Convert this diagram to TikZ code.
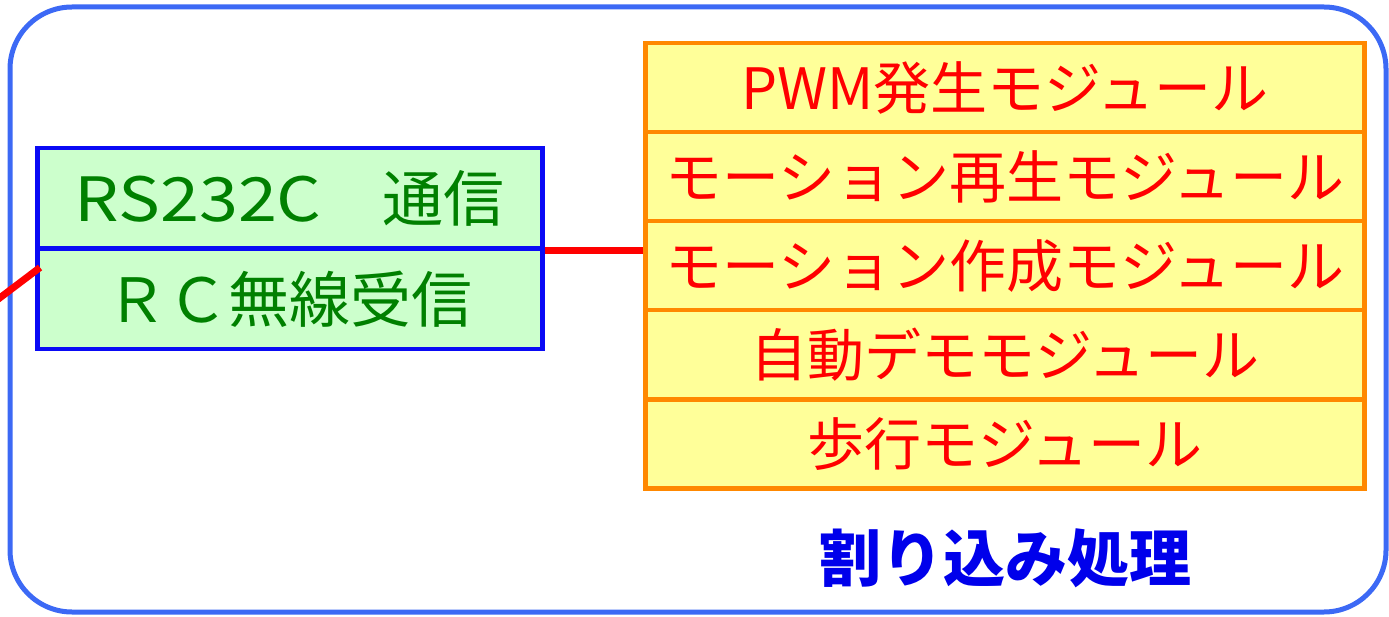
\documentclass[tikz,border=0pt]{standalone}
\usepackage{fontspec}
\setmainfont{Noto Sans CJK JP}
\newfontfamily\widelatin[FakeStretch=1.15]{Noto Sans CJK JP}
\usetikzlibrary{calc}
\definecolor{outerblue}{RGB}{60,105,245}
\definecolor{boxblue}{RGB}{10,10,245}
\definecolor{lightgreen}{RGB}{204,255,204}
\definecolor{textgreen}{RGB}{0,128,0}
\definecolor{boxorange}{RGB}{255,136,0}
\definecolor{lightyellow}{RGB}{255,255,153}
\definecolor{textred}{RGB}{255,0,0}
\definecolor{labelblue}{RGB}{0,0,235}
\tikzset{
  commbox/.style={draw=boxblue, line width=4.5pt, fill=lightgreen, text=textgreen,
    minimum width=505pt, minimum height=100.5pt, inner sep=0pt, anchor=north west,
    font=\fontsize{61}{64}\selectfont},
  modbox/.style={draw=boxorange, line width=4.5pt, fill=lightyellow, text=textred,
    minimum width=719pt, minimum height=89pt, inner sep=0pt, anchor=north west,
    font=\fontsize{57}{60}\selectfont},
  redwire/.style={draw=red, line width=7pt},
  frame/.style={draw=outerblue, line width=5pt, rounded corners=62pt},
}
\newcommand{\lowtext}[1]{\raisebox{-4pt}{#1}}
\begin{document}
\begin{tikzpicture}[x=1pt,y=-1pt]
\useasboundingbox (0,0) rectangle (1389,617);
\draw[frame] (10,7) rectangle (1386,612);

\node[commbox] (rs) at (35,146) {\lowtext{{\widelatin RS232C}　通信}};
\node[commbox] (rc) at (35,246.5) {\lowtext{ＲＣ無線受信}};

\node[modbox] (m1) at (643,41) {\lowtext{PWM発生モジュール}};
\node[modbox] (m2) at (643,130) {\lowtext{モーション再生モジュール}};
\node[modbox] (m3) at (643,219) {\lowtext{モーション作成モジュール}};
\node[modbox] (m4) at (643,308) {\lowtext{自動デモモジュール}};
\node[modbox] (m5) at (643,397) {\lowtext{歩行モジュール}};

\node[text=labelblue, font=\fontsize{62}{66}\selectfont\bfseries] (irq) at (1005,558) {割り込み処理};

\draw[redwire] (rs.south east) -- (rs.south east -| m3.west);
\coordinate (rcin) at ($(rc.north west)+(5,21)$);
\coordinate (offleft) at (-40,328);
\draw[redwire] (rcin) -- (offleft);
\end{tikzpicture}
\end{document}
